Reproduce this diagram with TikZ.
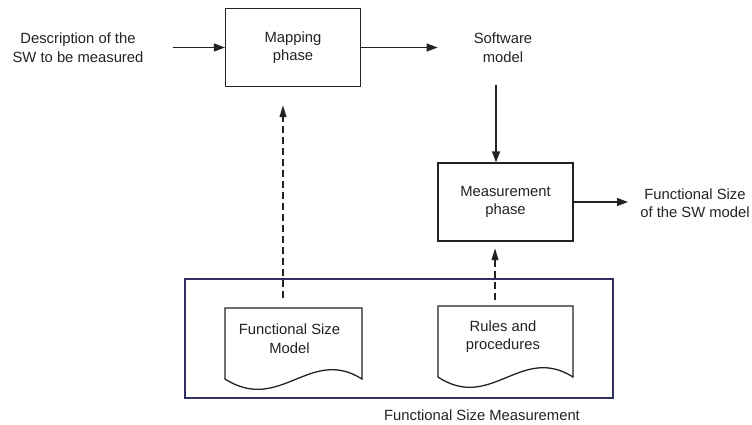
\documentclass[tikz,border=0pt]{standalone}
\usepackage{fontspec}
\setmainfont{Liberation Sans}
\usetikzlibrary{arrows.meta}
\definecolor{txt}{HTML}{222222}
\definecolor{frame}{RGB}{48,48,100}
\tikzset{
  lbl/.style={align=center, inner sep=0pt, text=txt, font=\fontsize{14.8}{18.5}\selectfont},
  phasebox/.style={draw=txt, line width=1.3pt, minimum width=135pt, minimum height=78pt, lbl},
  flow/.style={draw=txt, line width=1.3pt, -{Triangle[length=11pt,width=8pt]}},
  dflow/.style={draw=txt, line width=2pt, dash pattern=on 7pt off 4pt, -{Triangle[length=12pt,width=6.5pt]}},
  docshape/.style={draw=txt, line width=1.3pt},
}
\begin{document}
\begin{tikzpicture}[x=1pt, y=-1pt]
\useasboundingbox (0,0) rectangle (752,424);

% frame
\draw[frame, line width=2.6pt] (185,279) rectangle (613,398);

% nodes
\node[lbl] (desc) at (78,47.5) {Description of the\\SW to be measured};
\node[phasebox] (map) at (293,47.5) {Mapping\\phase};
\node[lbl] (sw) at (503,47.5) {Software\\model};
\node[phasebox] (meas) at (505.5,202) {Measurement\\phase};
\node[lbl] (fs) at (695,203) {Functional Size\\of the SW model};

% documents
\draw[docshape] (225,379) -- (225,308) -- (362,308) -- (362,379)
  .. controls (310,346) and (280,414) .. (225,379) -- cycle;
\node[lbl] (fsm) at (289.5,338.5) {Functional Size\\Model};
\draw[docshape] (438,377) -- (438,306) -- (573,306) -- (573,377)
  .. controls (521,344) and (491,412) .. (438,377) -- cycle;
\node[lbl] (rules) at (503,336.5) {Rules and\\procedures};

\node[lbl, anchor=base] (cap) at (482,420) {Functional Size Measurement};

% connectors
\draw[flow] ([xshift=29pt]desc.east) -- (map.west);
\draw[flow] (map.east) -- ([xshift=-36pt]sw.west |- map.east);
\coordinate (swout) at (496,85);
\draw[flow] (swout) -- (swout |- meas.north);
\coordinate (fsin) at (628,0);
\draw[flow] (meas.east) -- (fsin |- meas.east);

\coordinate (d1top) at (283,298);
\coordinate (d1tip) at (283,105);
\draw[dflow] (d1top) -- (d1tip);
\coordinate (d2top) at (495,300);
\coordinate (d2tip) at (495,248);
\draw[dflow] (d2top) -- (d2tip);
\end{tikzpicture}
\end{document}
